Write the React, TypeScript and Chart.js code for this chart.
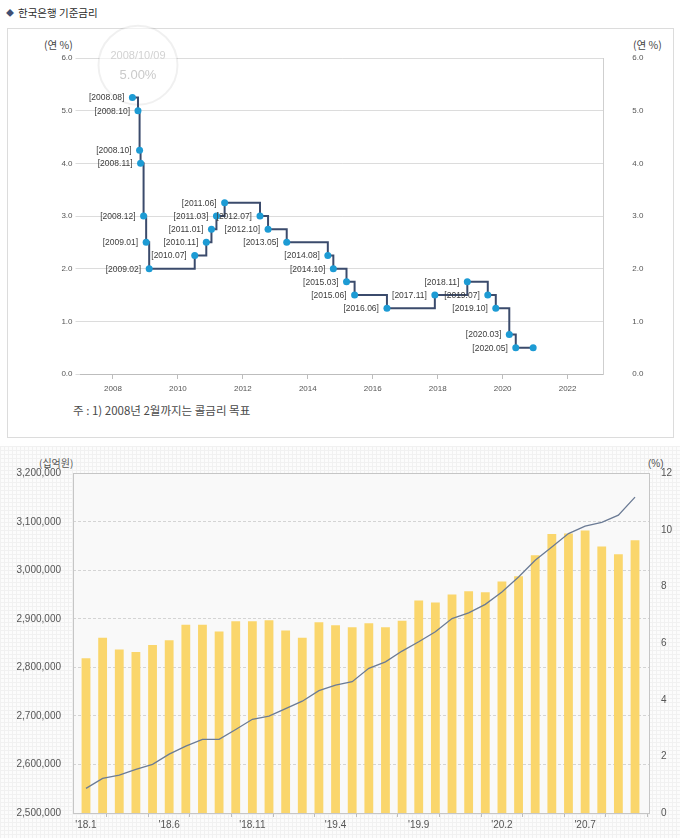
import React, { useEffect, useRef } from 'react';
import { Chart, registerables } from 'chart.js';

Chart.register(...registerables);

const FONT_LATIN = "'Liberation Sans', Arial, 'Noto Sans CJK KR', sans-serif";
const FONT_KR = "'Noto Sans CJK KR', 'Liberation Sans', sans-serif";

// 한국은행 기준금리: 변경일과 변경 후 금리(연 %). 마지막 항목은 현재 시점.
const rateChangeDates = [
  '2008-08-07', '2008-10-09', '2008-10-27', '2008-11-07', '2008-12-11',
  '2009-01-09', '2009-02-12', '2010-07-09', '2010-11-16', '2011-01-13',
  '2011-03-10', '2011-06-10', '2012-07-12', '2012-10-11', '2013-05-09',
  '2014-08-14', '2014-10-15', '2015-03-12', '2015-06-11', '2016-06-09',
  '2017-11-30', '2018-11-30', '2019-07-18', '2019-10-16', '2020-03-16',
  '2020-05-28', '2020-12-10',
];
const baseRates = [
  5.25, 5.0, 4.25, 4.0, 3.0,
  2.5, 2.0, 2.25, 2.5, 2.75,
  3.0, 3.25, 3.0, 2.75, 2.5,
  2.25, 2.0, 1.75, 1.5, 1.25,
  1.5, 1.75, 1.5, 1.25, 0.75,
  0.5, 0.5,
];
const rateYearTicks = [2008, 2010, 2012, 2014, 2016, 2018, 2020, 2022];
const rateHighlightIndex = 1;

// 월별 잔액(십억원)과 증가율(%)
const loanMonths = [
  "'18.1", "'18.2", "'18.3", "'18.4", "'18.5", "'18.6", "'18.7", "'18.8", "'18.9", "'18.10", "'18.11", "'18.12",
  "'19.1", "'19.2", "'19.3", "'19.4", "'19.5", "'19.6", "'19.7", "'19.8", "'19.9", "'19.10", "'19.11", "'19.12",
  "'20.1", "'20.2", "'20.3", "'20.4", "'20.5", "'20.6", "'20.7", "'20.8", "'20.9", "'20.10",
];
const loanBalances = [
  2819000, 2861000, 2837000, 2832000, 2846000, 2856000, 2888000, 2888000, 2874000, 2895000, 2895000, 2897000,
  2876000, 2861000, 2893000, 2887000, 2883000, 2891000, 2883000, 2896000, 2938000, 2934000, 2950000, 2957000,
  2955000, 2977000, 2988000, 3031000, 3075000, 3076000, 3082000, 3049000, 3033000, 3062000,
];
const loanGrowthRates = [
  0.87, 1.22, 1.34, 1.54, 1.72, 2.08, 2.36, 2.6, 2.6, 2.95, 3.31, 3.42,
  3.69, 3.95, 4.32, 4.52, 4.64, 5.11, 5.34, 5.72, 6.05, 6.4, 6.87, 7.07,
  7.37, 7.81, 8.34, 8.93, 9.4, 9.87, 10.13, 10.27, 10.52, 11.16,
];
// 가로축 눈금 위치(월 인덱스). 정수 위치에만 월 이름을 붙인다.
const loanTickPositions = [0, 2.5, 5, 7.5, 10, 12.5, 15, 17.5, 20, 22.5, 25, 27.5, 30, 32.5];
const loanLabelEvery = 5;

function toDecimalYear(s: string): number {
  const [y, m, d] = s.split('-').map(Number);
  const start = Date.UTC(y, 0, 1);
  const end = Date.UTC(y + 1, 0, 1);
  return y + (Date.UTC(y, m - 1, d) - start) / (end - start);
}

const rateLabels = rateChangeDates.map((d, i) =>
  i === rateChangeDates.length - 1 ? '' : `[${d.slice(0, 4)}.${d.slice(5, 7)}]`
);

const pointLabelPlugin = {
  id: 'pointLabels',
  afterDatasetsDraw(chart: any) {
    const meta = chart.getDatasetMeta(0);
    const ctx = chart.ctx;
    ctx.save();
    ctx.font = `8.5px ${FONT_LATIN}`;
    ctx.fillStyle = '#3c3c3c';
    ctx.textAlign = 'right';
    ctx.textBaseline = 'middle';
    meta.data.forEach((pt: any, i: number) => {
      const label = rateLabels[i];
      if (label) ctx.fillText(label, pt.x - 8, pt.y + 0.5);
    });
    ctx.restore();
  },
};

// 선택된 변경일의 말풍선(흐리게 표시)
const highlightBubblePlugin = {
  id: 'highlightBubble',
  beforeDatasetsDraw(chart: any) {
    const pt = chart.getDatasetMeta(0).data[rateHighlightIndex];
    if (!pt) return;
    const ctx = chart.ctx;
    const cx = pt.x;
    const cy = pt.y - 45.5;
    ctx.save();
    ctx.beginPath();
    ctx.arc(cx, cy, 39.5, 0, Math.PI * 2);
    ctx.fillStyle = 'rgba(255,255,255,0.6)';
    ctx.fill();
    ctx.strokeStyle = 'rgba(0,0,0,0.06)';
    ctx.lineWidth = 2;
    ctx.stroke();
    ctx.textAlign = 'center';
    ctx.textBaseline = 'middle';
    ctx.fillStyle = '#d2d2d2';
    ctx.font = `11px ${FONT_LATIN}`;
    ctx.fillText(rateChangeDates[rateHighlightIndex].replace(/-/g, '/'), cx, cy - 9.5);
    ctx.fillStyle = '#cacaca';
    ctx.font = `13px ${FONT_LATIN}`;
    ctx.fillText(baseRates[rateHighlightIndex].toFixed(2) + '%', cx, cy + 10.5);
    ctx.restore();
  },
};

function RateChart() {
  const ref = useRef<HTMLCanvasElement>(null);
  useEffect(() => {
    const tickFont = { family: FONT_LATIN, size: 8 };
    const chart = new Chart(ref.current as HTMLCanvasElement, {
      type: 'line',
      data: {
        datasets: [
          {
            data: rateChangeDates.map((d, i) => ({ x: toDecimalYear(d), y: baseRates[i] })),
            stepped: 'before',
            borderColor: '#3b4b6c',
            borderWidth: 2,
            pointRadius: 3.5,
            pointBackgroundColor: '#1d9bd4',
            pointBorderColor: '#1d9bd4',
            pointBorderWidth: 0,
          },
        ],
      },
      options: {
        animation: false,
        responsive: false,
        events: [],
        layout: { padding: { top: 38, left: 0, right: 0, bottom: 0 } },
        plugins: { legend: { display: false }, tooltip: { enabled: false } },
        scales: {
          x: {
            type: 'linear',
            min: 2007,
            max: 2023.1,
            afterBuildTicks: (s: any) => {
              s.ticks = rateYearTicks.map((v) => ({ value: v }));
            },
            afterFit: (s: any) => {
              s.height = 26;
            },
            grid: { drawOnChartArea: false, drawTicks: true, tickLength: 5, color: '#bdbdbd' },
            border: { display: true, color: '#bdbdbd' },
            ticks: {
              padding: 5,
              autoSkip: false,
              maxRotation: 0,
              color: '#555',
              font: tickFont,
              callback: (v: any) => String(v),
            },
          },
          y: {
            position: 'left',
            min: 0,
            max: 6,
            afterFit: (s: any) => {
              s.width = 73.5;
            },
            grid: { color: '#dcdcdc', tickLength: 5 },
            border: { display: false },
            ticks: {
              stepSize: 1,
              padding: 3,
              color: '#555',
              font: tickFont,
              callback: (v: any) => Number(v).toFixed(1),
            },
          },
          y2: {
            position: 'right',
            min: 0,
            max: 6,
            afterFit: (s: any) => {
              s.width = 69.7;
            },
            // 눈금선은 투명하게 두고 길이로 라벨 간격을 만든다
            grid: { drawOnChartArea: false, drawTicks: true, tickLength: 26, tickColor: 'rgba(0,0,0,0)' },
            border: { display: true, color: '#cfcfcf' },
            ticks: {
              stepSize: 1,
              padding: 3,
              color: '#555',
              font: tickFont,
              callback: (v: any) => Number(v).toFixed(1),
            },
          },
        },
      },
      plugins: [highlightBubblePlugin, pointLabelPlugin],
    } as any);
    return () => chart.destroy();
  }, []);
  return (
    <canvas
      ref={ref}
      width={666}
      height={380}
      style={{ position: 'absolute', left: 7, top: 20, width: 666, height: 380 }}
    />
  );
}

const plotFramePlugin = {
  id: 'plotFrame',
  beforeDatasetsDraw(chart: any) {
    const { ctx, chartArea: a } = chart;
    ctx.save();
    ctx.strokeStyle = '#c6c6c6';
    ctx.lineWidth = 1;
    ctx.strokeRect(Math.round(a.left) + 0.5, Math.round(a.top) + 0.5, Math.round(a.right - a.left), Math.round(a.bottom - a.top));
    ctx.restore();
  },
  beforeDraw(chart: any) {
    const { ctx, chartArea: a } = chart;
    ctx.save();
    ctx.fillStyle = '#f9f9f9';
    ctx.fillRect(a.left, a.top, a.right - a.left, a.bottom - a.top);
    ctx.restore();
  },
};

function LoanChart() {
  const ref = useRef<HTMLCanvasElement>(null);
  useEffect(() => {
    const tickFont = { family: FONT_LATIN, size: 10 };
    const chart = new Chart(ref.current as HTMLCanvasElement, {
      type: 'bar',
      data: {
        datasets: [
          {
            type: 'line',
            data: loanGrowthRates.map((v, i) => ({ x: i, y: v })),
            yAxisID: 'y1',
            borderColor: '#6b7b95',
            borderWidth: 1.3,
            pointRadius: 0,
            tension: 0,
            order: 0,
          },
          {
            type: 'bar',
            data: loanBalances.map((v, i) => ({ x: i, y: v })),
            yAxisID: 'y',
            backgroundColor: '#fad66c',
            borderWidth: 0,
            categoryPercentage: 1,
            barPercentage: 0.53,
            order: 1,
          },
        ],
      },
      options: {
        animation: false,
        responsive: false,
        events: [],
        layout: { padding: { top: 28.3, left: 0, right: 0, bottom: 0 } },
        plugins: { legend: { display: false }, tooltip: { enabled: false } },
        scales: {
          x: {
            type: 'linear',
            min: -0.781,
            max: 33.84,
            offset: false,
            afterBuildTicks: (s: any) => {
              s.ticks = loanTickPositions.map((v) => ({ value: v }));
            },
            afterFit: (s: any) => {
              s.height = 25;
            },
            grid: { drawOnChartArea: false, drawTicks: true, tickLength: 4, color: '#bdbdbd' },
            border: { display: false },
            ticks: {
              padding: 2,
              autoSkip: false,
              maxRotation: 0,
              color: '#555',
              font: tickFont,
              callback: (v: any) => (Number(v) % loanLabelEvery === 0 ? loanMonths[Number(v)] : ''),
            },
          },
          y: {
            position: 'left',
            min: 2500000,
            max: 3200000,
            afterFit: (s: any) => {
              s.width = 73;
            },
            grid: { color: '#d4d4d4', drawTicks: false },
            border: { display: false, dash: [3, 2] },
            ticks: {
              stepSize: 100000,
              padding: 12,
              color: '#555',
              font: tickFont,
              callback: (v: any) => Number(v).toLocaleString('en-US'),
            },
          },
          y1: {
            position: 'right',
            min: 0,
            max: 12,
            afterFit: (s: any) => {
              s.width = 31;
            },
            grid: { drawOnChartArea: false, drawTicks: false },
            border: { display: false },
            ticks: {
              stepSize: 2,
              padding: 12,
              color: '#555',
              font: tickFont,
            },
          },
        },
      },
      plugins: [plotFramePlugin],
    } as any);
    return () => chart.destroy();
  }, []);
  return (
    <canvas
      ref={ref}
      width={680}
      height={393}
      style={{ position: 'absolute', left: 0, top: 445, width: 680, height: 393 }}
    />
  );
}

export default function App() {
  const smallKr: React.CSSProperties = {
    position: 'absolute',
    fontFamily: FONT_KR,
    fontSize: 10.5,
    color: '#444',
    lineHeight: '12px',
    whiteSpace: 'nowrap',
  };
  return (
    <div
      style={{
        position: 'absolute',
        left: 0,
        top: 0,
        width: 680,
        height: 838,
        background: '#fff',
        overflow: 'hidden',
      }}
    >
      {/* 제목 */}
      <div
        style={{
          position: 'absolute',
          left: 6,
          top: 5,
          fontFamily: FONT_KR,
          fontSize: 10.5,
          lineHeight: '16px',
          color: '#2b2b2b',
          whiteSpace: 'nowrap',
        }}
      >
        <span style={{ color: '#3f4f74', fontSize: 8, marginRight: 4, verticalAlign: 1 }}>◆</span>
        한국은행 기준금리
      </div>
      {/* 기준금리 차트 영역 */}
      <div
        style={{
          position: 'absolute',
          left: 7,
          top: 28,
          width: 665,
          height: 408,
          border: '1px solid #dcdcdc',
        }}
      />
      <div style={{ ...smallKr, left: 44, top: 39 }}>(연 %)</div>
      <div style={{ ...smallKr, left: 633, top: 39 }}>(연 %)</div>
      <RateChart />
      <div style={{ ...smallKr, left: 73, top: 403, fontSize: 11.5, lineHeight: '14px', color: '#4a4a4a' }}>
        주 : 1) 2008년 2월까지는 콜금리 목표
      </div>
      {/* 월별 잔액·증가율 차트 */}
      <div
        style={{
          position: 'absolute',
          left: 0,
          top: 446,
          width: 680,
          height: 392,
          backgroundColor: '#fcfcfc',
          backgroundImage:
            'linear-gradient(#f1f1f1 1px, transparent 1px), linear-gradient(90deg, #f1f1f1 1px, transparent 1px)',
          backgroundSize: '4px 4px',
        }}
      />
      <div style={{ ...smallKr, left: 39, top: 457, fontSize: 10, color: '#555' }}>(십억원)</div>
      <div style={{ ...smallKr, left: 648, top: 458, fontSize: 10, color: '#555', fontFamily: FONT_LATIN }}>(%)</div>
      <LoanChart />
    </div>
  );
}
